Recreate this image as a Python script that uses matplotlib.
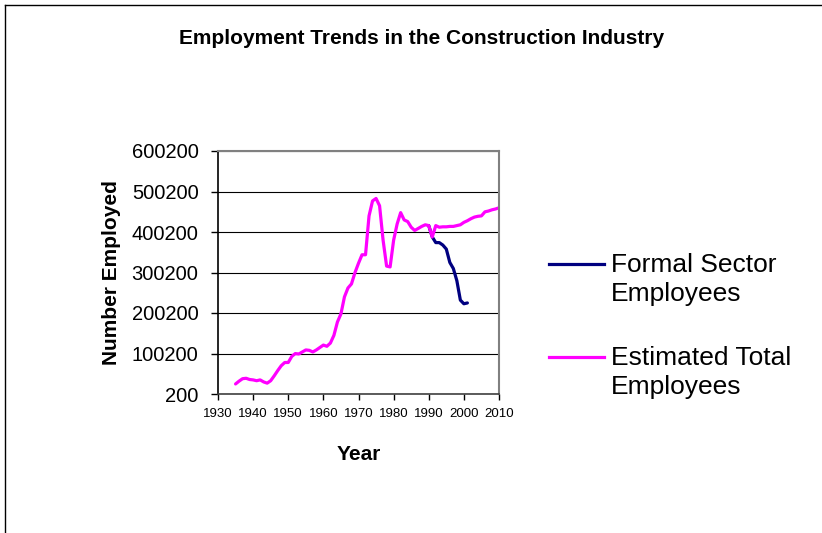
import numpy as np
import matplotlib
matplotlib.use("Agg")
import matplotlib.pyplot as plt
from matplotlib.lines import Line2D

plt.rcParams['font.family'] = ['Liberation Sans', 'DejaVu Sans']

# estimated total employment, one value a year
years_total = list(range(1935, 2011))
estimated_total = [
    25000, 32000, 38000, 39000, 36000, 35000, 33000, 35000, 30000, 27000,   # 1935-44
    33000, 45000, 58000, 70000, 78000, 78000, 93000, 100000, 99000, 104000,  # 1945-54
    109000, 108000, 104000, 109000, 115000, 121000, 118000, 126000, 145000, 178000,  # 1955-64
    198000, 240000, 262000, 272000, 300000, 323000, 344000, 344000, 440000, 477000,  # 1965-74
    483000, 465000, 380000, 316000, 314000, 380000, 420000, 448000, 430000, 426000,  # 1975-84
    412000, 404000, 409000, 414000, 418000, 416000, 388000, 416000, 412000, 413000,  # 1985-94
    413000, 414000, 414000, 416000, 418000, 424000, 428000, 433000, 437000, 439000,  # 1995-2004
    440000, 450000, 452000, 455000, 457000, 460000,  # 2005-10
]

# formal sector series (only differs from the estimate after 1990)
years_formal = list(range(1990, 2002))
formal_sector = [416000, 388000, 374000, 374000, 368000, 358000,
                 325000, 310000, 280000, 232000, 223000, 225000]

series_names = ['Formal Sector\nEmployees', 'Estimated Total\nEmployees']
series_colors = ['#000080', '#FF00FF']

y_ticks = [200, 100200, 200200, 300200, 400200, 500200, 600200]
x_ticks = list(range(1930, 2011, 10))

fig = plt.figure(figsize=(8.22, 5.33), dpi=100)
ax = fig.add_axes([218/822, 1 - 394/533, 281/822, 243/533])

ax.plot(years_formal, formal_sector, color=series_colors[0], lw=2.3,
        solid_capstyle='round')
ax.plot(years_total, estimated_total, color=series_colors[1], lw=2.3,
        solid_capstyle='round')

ax.set_xlim(1930, 2010)
ax.set_ylim(200, 600200)
ax.set_xticks(x_ticks)
ax.set_yticks(y_ticks)
ax.set_yticklabels([str(v) for v in y_ticks])
ax.tick_params(axis='y', labelsize=14.5, length=5, width=1, pad=9, direction='out')
ax.tick_params(axis='x', labelsize=9.5, length=4, width=1, pad=6, direction='out')
ax.grid(axis='y', color='black', lw=0.8)
ax.set_axisbelow(True)

for side in ['top', 'right']:
    ax.spines[side].set_color('#808080')
    ax.spines[side].set_linewidth(1.5)
ax.spines['left'].set_color('black')
ax.spines['bottom'].set_color('#404040')
ax.spines['left'].set_linewidth(1.2)
ax.spines['bottom'].set_linewidth(1.2)

ax.set_xlabel('Year', fontsize=15, fontweight='bold', labelpad=18)
ax.set_ylabel('Number Employed', fontsize=15, fontweight='bold', labelpad=8)

fig.text(422/822, 1 - 38/533, 'Employment Trends in the Construction Industry',
         ha='center', va='center', fontsize=15, fontweight='bold')

# legend: handle sits level with the first line of each label
for i, (name, col) in enumerate(zip(series_names, series_colors)):
    yc = 1 - (264 + i * 93) / 533
    fig.add_artist(Line2D([549/822, 604/822], [yc, yc], color=col, lw=2.3))
    fig.text(611/822, yc + 11/533, name, ha='left', va='top',
             fontsize=19, linespacing=1.25)

# chart area border (top and left edges)
fig.add_artist(Line2D([5/822, 1], [1 - 5/533, 1 - 5/533], color='black', lw=1))
fig.add_artist(Line2D([5/822, 5/822], [0, 1 - 5/533], color='black', lw=1))

fig.savefig('out.png', dpi=100)
